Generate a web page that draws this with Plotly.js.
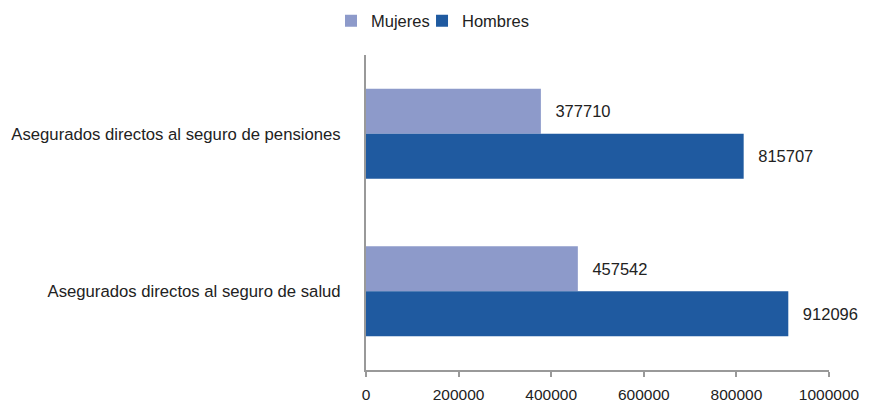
<!DOCTYPE html>
<html>
<head>
<meta charset="utf-8">
<script src="https://cdn.plot.ly/plotly-3.0.1.min.js"></script>
<style>html,body{margin:0;padding:0;background:#fff;}#chart{width:871px;height:402px;}</style>
</head>
<body>
<div id="chart"></div>
<script>
const categories = ["Asegurados directos al seguro de pensiones", "Asegurados directos al seguro de salud"];
const seriesNames = ["Mujeres", "Hombres"];
const mujeres = [377710, 457542];
const hombres = [815707, 912096];
const tickVals = [0, 200000, 400000, 600000, 800000, 1000000];
const tickLabels = ["0", "200000", "400000", "600000", "800000", "1000000"];

const colors = ["#8D9ACA", "#1F5AA0"];
const font = "Liberation Sans, Arial, sans-serif";
const legendIds = ["legend", "legend2"];

const traces = [mujeres, hombres].map((vals, i) => ({
  type: "bar",
  orientation: "h",
  name: seriesNames[i],
  legend: legendIds[i],
  x: vals,
  y: categories,
  marker: {color: colors[i]},
  text: vals.map(v => "\u2002\u2009" + String(v)),
  textposition: "outside",
  cliponaxis: false,
  textfont: {family: font, size: 16.5, color: "#222"},
  hoverinfo: "x+name"
}));

const legendBase = {orientation: "h", xanchor: "left", yref: "container", y: 0.948, yanchor: "middle",
                    bgcolor: "rgba(0,0,0,0)",
                    font: {family: font, size: 16.5, color: "#222"}};

const layout = {
  width: 871, height: 402,
  margin: {l: 366, r: 42, t: 55, b: 32, autoexpand: false},
  paper_bgcolor: "#fff", plot_bgcolor: "#fff",
  font: {family: font, size: 16.5, color: "#222"},
  barmode: "group",
  bargap: 0.43,
  bargroupgap: 0,
  showlegend: true,
  legend: Object.assign({}, legendBase, {x: -0.0756}),
  legend2: Object.assign({}, legendBase, {x: 0.121}),
  xaxis: {
    range: [0, 1000000], tickvals: tickVals, ticktext: tickLabels,
    showgrid: false, zeroline: false, showline: true, linecolor: "#999", linewidth: 2,
    ticks: "outside", ticklen: 5, tickcolor: "#999", tickwidth: 2,
    ticklabelstandoff: 4,
    tickfont: {family: font, size: 15.5, color: "#222"}
  },
  yaxis: {
    autorange: "reversed", showgrid: false, zeroline: false,
    showline: true, linecolor: "#999", linewidth: 2, ticks: "",
    ticklabelstandoff: 20,
    tickfont: {family: font, size: 16.7, color: "#222"}
  }
};

Plotly.newPlot("chart", traces, layout, {displayModeBar: false, staticPlot: true});
</script>
</body>
</html>
